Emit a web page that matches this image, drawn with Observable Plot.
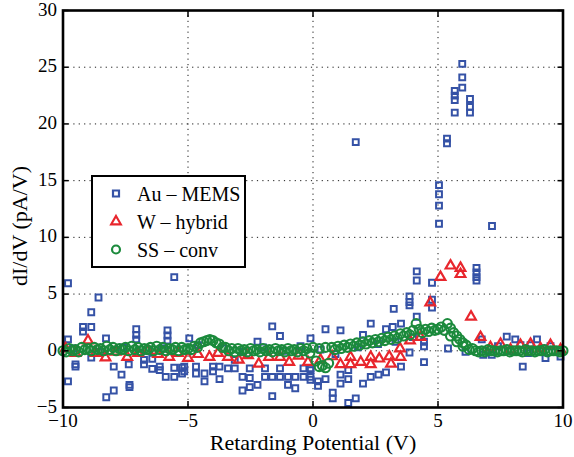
<!DOCTYPE html>
<html><head><meta charset="utf-8">
<script src="https://cdn.jsdelivr.net/npm/d3@7"></script>
<script src="https://cdn.jsdelivr.net/npm/@observablehq/plot@0.6"></script>
<style>
body{margin:0;background:#fff}
#chart{position:relative;width:574px;height:457px}
</style>
</head><body><div id="chart"></div>
<script>
const xTicks = [-10, -5, 0, 5, 10];
const yTicks = [-5, 0, 5, 10, 15, 20, 25, 30];
const seriesNames = ["Au \u2013 MEMS", "W \u2013 hybrid", "SS \u2013 conv"];
const seriesColors = ["#3552a6", "#e8262d", "#1b8a3c"];
const xLabel = "Retarding Potential (V)";
const yLabel = "dI/dV (pA/V)";

const auMEMS = [[-9.8,5.95],[-9.8,1.0],[-9.8,-2.7],[-9.5,-1.4],[-9.5,-1.2],[-9.2,2.1],[-9.2,1.7],[-8.87,3.4],[-8.87,2.1],[-8.87,-0.6],[-8.58,4.7],[-8.28,1.1],[-8.27,-4.1],[-7.97,-1.4],[-7.97,-3.5],[-7.66,-2.1],[-7.37,-1.2],[-7.34,-3.0],[-7.34,-3.2],[-7.07,1.9],[-7.07,1.4],[-7.07,1.0],[-6.76,-0.8],[-6.76,-1.2],[-6.43,-0.7],[-6.43,-1.6],[-6.13,-1.4],[-6.13,-1.7],[-5.82,1.8],[-5.82,1.35],[-5.82,0.9],[-5.89,-2.3],[-5.55,-2.3],[-5.55,-1.5],[-5.55,6.5],[-5.24,-1.5],[-5.24,-2.0],[-4.95,1.1],[-5.15,-1.4],[-5.15,-1.8],[-4.68,-1.4],[-4.68,-2.0],[-4.34,-2.0],[-4.34,-2.7],[-4.0,-1.4],[-4.0,-1.8],[-3.74,-1.4],[-3.74,-2.5],[-3.4,-1.55],[-3.13,-0.8],[-3.13,-1.55],[-2.82,-2.3],[-2.82,-3.5],[-2.53,-1.55],[-2.53,-2.4],[-2.53,-3.2],[-2.22,0.8],[-2.22,-3.0],[-1.92,-1.55],[-1.92,-2.3],[-1.63,2.15],[-1.63,-2.3],[-1.63,-4.0],[-1.32,1.3],[-1.32,-1.55],[-1.32,-2.3],[-1.0,-2.3],[-1.0,-3.0],[-0.71,-2.3],[-0.71,-3.3],[-0.38,-1.55],[-0.38,-2.3],[-0.1,-1.55],[-0.1,-2.55],[-0.1,1.1],[-0.1,-1.7],[-0.1,-2.3],[0.2,-2.7],[0.2,-3.1],[0.5,1.9],[0.5,-2.5],[0.79,-3.7],[0.79,-4.2],[1.1,1.8],[1.1,-2.1],[1.1,-2.9],[1.41,-1.7],[1.41,-2.5],[1.41,-4.6],[1.71,18.4],[1.71,-4.2],[2.0,1.4],[2.0,-2.9],[2.31,2.4],[2.31,-2.3],[2.62,-2.1],[2.92,1.9],[2.92,-1.9],[3.19,2.1],[3.23,3.7],[3.52,2.4],[3.52,-1.4],[3.86,4.8],[3.86,4.3],[3.86,4.0],[3.86,-0.15],[4.15,7.0],[4.15,6.2],[4.15,3.0],[4.44,0.8],[4.44,0.4],[4.44,-1.0],[4.76,6.0],[4.76,4.5],[4.76,3.8],[5.04,14.6],[5.04,13.8],[5.04,12.8],[5.04,11.2],[5.36,18.7],[5.36,18.3],[5.67,22.9],[5.67,22.5],[5.67,22.1],[5.67,21.0],[5.97,25.3],[5.97,24.1],[5.97,23.2],[6.28,22.2],[6.28,21.5],[6.28,21.0],[6.54,7.3],[6.54,6.9],[6.54,6.5],[6.54,6.2],[6.75,1.0],[6.81,-0.35],[7.15,-0.35],[7.16,11.0],[7.4,0.4],[7.75,1.25],[8.09,1.0],[8.3,0.5],[8.39,-1.4],[8.7,0.5],[8.96,1.0],[9.3,-0.65],[9.5,0.4],[9.9,-0.5],[-9.6,0.2],[-8.5,-0.1],[-7.6,0.3],[-6.9,-0.2],[-6.0,0.2],[-4.6,0.5],[-3.6,0.2],[-2.8,-0.1],[-2.0,0.3],[-1.2,0.0],[-0.5,0.4],[0.3,0.1],[0.9,-0.3],[1.8,0.3],[2.6,0.6],[3.3,0.8],[4.0,1.2],[5.4,0.2],[6.1,-0.1],[7.8,0.0],[8.6,-0.2],[9.2,0.2]];

const wHybrid = [[-9.9,0.2],[-9.5,-0.2],[-9.0,0.9],[-8.7,-0.2],[-8.3,-0.6],[-7.9,-0.1],[-7.43,-0.55],[-7.0,-0.2],[-6.6,0.0],[-6.2,-0.3],[-5.75,-0.55],[-5.4,-0.2],[-5.0,-0.65],[-4.6,-0.3],[-4.14,-0.55],[-3.8,-0.2],[-3.4,-0.55],[-2.97,-0.8],[-2.6,-0.4],[-2.17,-1.15],[-1.76,-0.55],[-1.32,-0.55],[-0.95,-1.0],[-0.58,-0.45],[-0.2,-1.0],[0.3,-0.8],[0.77,-0.5],[1.1,-1.2],[1.5,-0.55],[1.5,-1.2],[1.91,-1.0],[2.31,-0.55],[2.31,-1.2],[2.65,-0.7],[3.05,-0.5],[3.12,-1.15],[3.48,0.2],[3.5,-0.55],[3.88,0.9],[4.3,1.2],[4.69,4.25],[5.1,6.5],[5.5,7.5],[5.9,7.3],[5.9,6.75],[6.32,3.0],[6.7,1.2],[7.1,0.3],[7.5,0.6],[7.9,0.1],[8.3,0.5],[8.7,0.6],[9.1,0.2],[9.5,0.5],[9.9,0.1]];

const ssConvA = [[-10,0.0],[-9.75,0.2],[-9.5,0.1],[-9.25,0.3],[-9,0.2],[-8.75,0.3],[-8.5,0.2],[-8.25,0.4],[-8,0.3],[-7.75,0.2],[-7.5,0.3],[-7.25,0.4],[-7,0.3],[-6.75,0.2],[-6.5,0.3],[-6.25,0.4],[-6,0.3],[-5.75,0.2],[-5.5,0.3],[-5.25,0.3],[-5,0.2],[-4.75,0.4],[-4.5,0.7],[-4.25,0.9],[-4,0.9],[-3.75,0.6],[-3.5,0.3],[-3.25,0.2],[-3,0.2],[-2.75,0.1],[-2.5,0.2],[-2.25,0.1],[-2,0.2],[-1.75,0.1],[-1.5,0.2],[-1.25,0.1],[-1,0.2],[-0.75,0.1],[-0.5,0.2],[-0.25,0.2],[0,0.3],[0.25,0.2],[0.5,0.3],[0.75,0.3],[1,0.4],[1.25,0.5],[1.5,0.6],[1.75,0.7],[2,0.8],[2.25,0.9],[2.5,1.0],[2.75,1.1],[3,1.2],[3.25,1.3],[3.5,1.5],[3.75,1.6],[4,1.8],[4.25,1.9],[4.5,1.9],[4.75,2.0],[5,1.9],[5.25,1.8],[5.5,1.3],[5.75,0.8],[6,0.4],[6.25,0.1],[6.5,0.0],[6.75,0.0],[7,0.1],[7.25,0.0],[7.5,0.0],[7.75,0.1],[8,0.0],[8.25,0.0],[8.5,0.1],[8.75,0.0],[9,0.0],[9.25,0.1],[9.5,0.0],[9.75,0.0],[10,0.0]];

const ssConvB = [[-9.875,-0.1],[-9.625,0.0],[-9.375,-0.1],[-9.125,0.1],[-8.875,0.0],[-8.625,0.1],[-8.375,0.0],[-8.125,0.1],[-7.875,0.0],[-7.625,0.1],[-7.375,0.0],[-7.125,0.1],[-6.875,0.0],[-6.625,0.1],[-6.375,0.0],[-6.125,0.1],[-5.875,0.0],[-5.625,0.1],[-5.375,0.0],[-5.125,0.1],[-4.875,0.1],[-4.625,0.3],[-4.375,0.8],[-4.125,1.0],[-3.875,0.7],[-3.625,0.3],[-3.375,0.0],[-3.125,-0.1],[-2.875,0.0],[-2.625,-0.1],[-2.375,0.0],[-2.125,-0.1],[-1.875,0.0],[-1.625,-0.1],[-1.375,0.0],[-1.125,-0.1],[-0.875,0.0],[-0.625,-0.1],[-0.375,0.0],[-0.125,-0.2],[0.125,-0.9],[0.25,-1.4],[0.375,-1.3],[0.5,-1.5],[0.625,-1.1],[0.875,0.1],[1.125,0.2],[1.375,0.3],[1.625,0.4],[1.875,0.5],[2.125,0.6],[2.375,0.7],[2.625,0.8],[2.875,0.9],[3.125,1.0],[3.375,1.1],[3.625,1.3],[3.875,1.4],[4.125,2.4],[4.375,1.6],[4.625,1.7],[4.875,1.8],[5.125,2.1],[5.375,2.4],[5.5,2.0],[5.625,1.6],[5.75,1.3],[5.875,1.0],[6.0,0.7],[6.125,0.5],[6.375,0.2],[6.625,-0.1],[6.875,-0.1],[7.125,0.0],[7.375,-0.1],[7.625,0.0],[7.875,-0.1],[8.125,0.0],[8.375,-0.1],[8.625,0.0],[8.875,-0.1],[9.125,0.0],[9.375,-0.1],[9.625,0.0],[9.875,-0.1]];

const toRows = arr => arr.map(([x, y]) => ({x, y}));
const ssConv = toRows(ssConvA.concat(ssConvB));
const font = "'Liberation Serif', 'Times New Roman', serif";
const grid = {stroke: "#000", strokeWidth: 1, strokeDasharray: "1.2,4.2", strokeOpacity: 0.9};

const plot = Plot.plot({
  width: 574, height: 457,
  marginLeft: 62.5, marginRight: 11.5, marginTop: 10, marginBottom: 50,
  style: {fontFamily: font, fontSize: "19px", color: "#000", background: "#fff", overflow: "visible"},
  x: {domain: [-10, 10]},
  y: {domain: [-5, 30]},
  marks: [
    Plot.ruleX(xTicks.slice(1, -1), grid),
    Plot.ruleY(yTicks.slice(1, -1), grid),
    Plot.dot(toRows(auMEMS), {x: "x", y: "y", symbol: "square", r: 3.3, stroke: seriesColors[0], strokeWidth: 2, fill: "none"}),
    Plot.dot(toRows(wHybrid), {x: "x", y: "y", symbol: "triangle", r: 3.6, stroke: seriesColors[1], strokeWidth: 2.2, fill: "none"}),
    Plot.dot(ssConv, {x: "x", y: "y", symbol: "circle", r: 4.5, stroke: seriesColors[2], strokeWidth: 2.1, fill: "none"}),
    Plot.axisX(xTicks, {anchor: "bottom", tickSize: 0, tickPadding: 6, label: null, fontSize: 19}),
    Plot.axisY(yTicks, {anchor: "left", tickSize: 0, tickPadding: 6, label: null, fontSize: 19, dy: -1}),
    Plot.axisX(xTicks, {anchor: "bottom", tickSize: -6, fill: "none", label: null, strokeWidth: 1.5}),
    Plot.axisX(xTicks, {anchor: "top", tickSize: -6, fill: "none", label: null, strokeWidth: 1.5}),
    Plot.axisY(yTicks, {anchor: "left", tickSize: -6, fill: "none", label: null, strokeWidth: 1.5}),
    Plot.axisY(yTicks, {anchor: "right", tickSize: -6, fill: "none", label: null, strokeWidth: 1.5}),
    Plot.text([xLabel], {frameAnchor: "bottom", dy: 42, fontSize: 22, fontFamily: font}),
    Plot.text([yLabel], {frameAnchor: "left", textAnchor: "middle", dx: -43, dy: 17, rotate: -90, fontSize: 22, fontFamily: font}),
    Plot.frame({stroke: "#000", strokeWidth: 2.6})
  ]
});
document.getElementById("chart").appendChild(plot);

// legend box drawn inside the axes
const svg = d3.select(plot);
const lg = svg.append("g").attr("transform", "translate(92,176)");
lg.append("rect").attr("width", 153).attr("height", 91).attr("fill", "#fff").attr("stroke", "#000").attr("stroke-width", 2);
const symbols = [d3.symbolSquare, d3.symbolTriangle, d3.symbolCircle];
const sizes = [36, 40, 50];
seriesNames.forEach((name, i) => {
  const row = lg.append("g").attr("transform", `translate(24,${17.5 + i * 28})`);
  row.append("path").attr("d", d3.symbol(symbols[i], sizes[i])())
    .attr("fill", "none").attr("stroke", seriesColors[i]).attr("stroke-width", 2.2);
  row.append("text").attr("x", 21).attr("dy", "0.35em").attr("text-anchor", "start")
    .attr("font-family", font).attr("font-size", 20).attr("fill", "#000").text(name);
});
</script>
</body></html>
